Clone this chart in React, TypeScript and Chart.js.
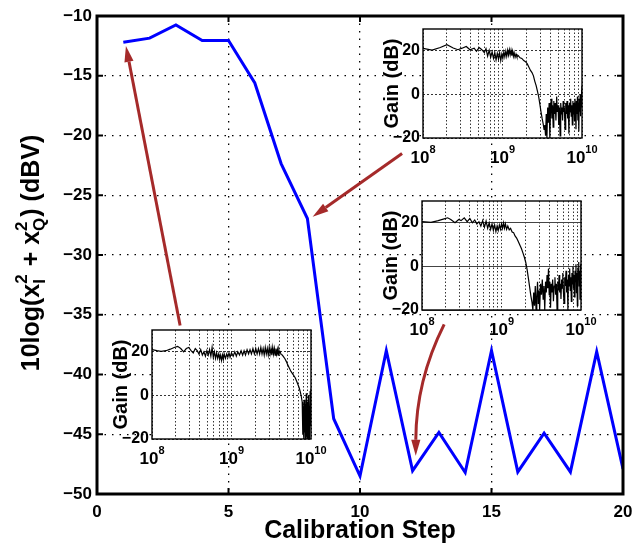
import React, { useEffect, useRef } from 'react';
import { Chart, registerables } from 'chart.js';
Chart.register(...registerables);

const FONT = '"Liberation Sans", Arial, Helvetica, sans-serif';

// ---- main chart data ----
const steps = [1, 2, 3, 4, 5, 6, 7, 8, 9, 10, 11, 12, 13, 14, 15, 16, 17, 18, 19, 20];
const power = [-12.2, -11.85, -10.75, -12.05, -12.05, -15.6, -22.35, -26.95, -43.7, -48.5, -38.0, -48.05, -44.85, -48.2, -38.0, -48.15, -44.9, -48.15, -38.1, -47.9];
const xTicks = [0, 5, 10, 15, 20];
const yTicks = [-10, -15, -20, -25, -30, -35, -40, -45, -50];
const xTitle = 'Calibration Step';

// arrows (data coordinates of the main plot)
const arrowA = { tail: [3.16, -35.9], tip: [1.1, -12.5] };
const arrowB = { tail: [11.6, -21.5], tip: [8.2, -26.8] };
const arrowC = { tail: [13.2, -35.8], ctrl: [12.13, -40.5], tip: [12.12, -46.8] };

// ---- inset data (frequency in GHz, gain in dB) ----
const insetGridGHz = [0.1, 0.2, 0.3, 0.4, 0.5, 0.6, 0.7, 0.8, 0.9, 1, 2, 3, 4, 5, 6, 7, 8, 9, 10];
const insetMajorGHz = [0.1, 1, 10];
const insetMajorExp = ['8', '9', '10'];
const insetYTicks = [-20, 0, 20];
const insetTitle = 'Gain (dB)';

const gainAFreq = [0.10, 0.13, 0.165, 0.20, 0.24, 0.275, 0.31, 0.35, 0.39, 0.44, 0.47, 0.51, 0.55, 0.59, 0.62,
  0.65, 0.68, 0.71, 0.74, 0.77, 0.80, 0.83, 0.86, 0.89, 0.92, 0.95, 0.98, 1.01, 1.04, 1.07, 1.10, 1.13, 1.16, 1.19, 1.22, 1.25, 1.28, 1.31, 1.34, 1.37, 1.40, 1.44, 1.48, 1.52,
  1.58, 1.66, 1.75, 1.85, 1.95, 2.05, 2.15, 2.25, 2.35, 2.45, 2.55, 2.65, 2.75, 2.85, 2.95, 3.05, 3.15, 3.25, 3.33,
  3.40, 3.48, 3.55, 3.62, 3.70, 3.78, 3.86, 3.94, 4.02, 4.10, 4.18, 4.26, 4.34, 4.42, 4.50, 4.60, 4.70, 4.80, 4.90, 5.00,
  5.10, 5.20, 5.30, 5.40, 5.50, 5.60, 5.70, 5.80, 5.90, 6.00, 6.12, 6.24, 6.36, 6.48, 6.60, 6.72, 6.84, 6.96, 7.08, 7.20,
  7.32, 7.44, 7.56, 7.68, 7.80, 7.92, 8.04, 8.16, 8.28, 8.40, 8.52, 8.64, 8.76, 8.88, 9.00, 9.12, 9.24, 9.36, 9.48, 9.60,
  9.72, 9.84, 9.92, 10.0];
const gainA = [21.1, 20.3, 21.5, 22.8, 21.3, 20.5, 21.2, 22.0, 20.5, 21.2, 19.8, 21.5, 20.5, 19.2, 21.0,
  17.5, 20.2, 17.0, 19.5, 16.5, 19.2, 15.8, 18.8, 16.2, 19.0, 15.5, 18.5, 16.5, 19.5, 17.2, 19.8, 17.5, 20.3, 18.0, 20.5, 18.2, 20.3, 17.8, 19.8, 17.5, 19.2, 17.0, 18.5, 17.2,
  17.8, 16.8, 16.5, 15.5, 15.0, 14.0, 12.5, 11.0, 10.0, 8.5, 6.0, 4.0, 1.5, -1.0, -4.5, -8.0, -11.0, -13.5, -16.0,
  -14, -19, -9, -20, -6, -13, -4, -20, -7, -2, -11, -5, -15, -3, -9, -4, -12, -1, -8, -5,
  -14, -6, -19, -4, -9, -6, -12, -3, -8, -6, -16, -4, -9, -3, -11, -5, -18, -4, -8, -2,
  -10, -5, -14, -3, -9, -4, -12, -2, -7, -16, -3, -9, -1, -12, -4, -17, -2, -8, 0, -10,
  -3, 2, -6, 4];

const gainBFreq = [0.10, 0.13, 0.16, 0.19, 0.21, 0.23, 0.26, 0.29, 0.31, 0.34, 0.37, 0.40, 0.43, 0.46, 0.49, 0.52, 0.55, 0.58,
  0.61, 0.64, 0.67, 0.70, 0.73, 0.76, 0.79, 0.82, 0.85, 0.88, 0.91, 0.94, 0.97, 1.00, 1.03, 1.06, 1.09, 1.12, 1.16, 1.20, 1.25,
  1.30, 1.36, 1.42, 1.48, 1.55, 1.62, 1.70, 1.78, 1.86, 1.94, 2.02, 2.10, 2.18, 2.26, 2.34, 2.42,
  2.48, 2.54, 2.60, 2.66, 2.72, 2.78, 2.84, 2.90, 2.96, 3.02, 3.10, 3.18, 3.26, 3.34, 3.42, 3.50, 3.58, 3.66, 3.74, 3.82,
  3.90, 3.98, 4.06, 4.14, 4.22, 4.30, 4.40, 4.50, 4.60, 4.70, 4.80, 4.90, 5.00, 5.10, 5.20, 5.30, 5.40, 5.50, 5.60, 5.70,
  5.80, 5.90, 6.00, 6.12, 6.24, 6.36, 6.48, 6.60, 6.72, 6.84, 6.96, 7.08, 7.20, 7.32, 7.44, 7.56, 7.68, 7.80, 7.92, 8.04,
  8.16, 8.28, 8.40, 8.52, 8.64, 8.76, 8.88, 9.00, 9.12, 9.24, 9.36, 9.48, 9.60, 9.72, 9.84, 9.92, 10.0];
const gainB = [20.5, 20.2, 21.0, 21.8, 22.3, 21.5, 20.0, 21.5, 21.0, 22.3, 20.5, 22.0, 20.0, 21.3, 19.5, 20.5, 18.5, 21.0,
  18.0, 20.8, 17.5, 20.0, 17.0, 19.5, 16.5, 19.0, 16.0, 18.5, 16.5, 19.0, 17.0, 19.5, 17.5, 20.0, 17.5, 19.5, 17.0, 18.5, 16.8,
  17.5, 15.8, 15.5, 14.0, 13.0, 11.5, 9.8, 8.2, 6.2, 4.2, 1.8, -1.5, -5.5, -9.5, -13.5, -16.5,
  -20, -12, -18, -9, -20, -14, -7, -17, -11, -20, -8, -13, -6, -15, -9, -20, -7, -12, -4, -10,
  -1, -13, -7, -19, -8, -12, -6, -16, -9, -5, -13, -8, -20, -7, -11, -4, -12, -8, -15, -6,
  -10, -3, -11, -17, -5, -9, -2, -12, -6, -20, -4, -9, -1, -11, -5, -16, -3, -8, 0, -10,
  -4, -14, -2, -7, 1, -12, -3, -18, -1, -6, 2, -9, -2, -15, 1, -5, -1];

const gainCFreq = [0.10, 0.115, 0.13, 0.15, 0.17, 0.19, 0.21, 0.23, 0.25, 0.27, 0.29, 0.31, 0.33, 0.35, 0.37, 0.39, 0.41, 0.43,
  0.45, 0.47, 0.49, 0.51, 0.53, 0.55, 0.57, 0.59, 0.61, 0.63, 0.65, 0.67, 0.69, 0.71, 0.73, 0.75, 0.77, 0.79, 0.81, 0.84, 0.87,
  0.90, 0.93, 0.96, 1.00, 1.05, 1.10, 1.15, 1.20, 1.26, 1.32, 1.38, 1.44, 1.50, 1.57, 1.64, 1.71, 1.78, 1.86, 1.94, 2.02, 2.10,
  2.18, 2.26, 2.34, 2.42, 2.50, 2.58, 2.66, 2.74, 2.82, 2.90, 2.98, 3.06, 3.14, 3.22, 3.30, 3.38, 3.46, 3.54, 3.62, 3.70, 3.78,
  3.86, 3.94, 4.02, 4.10, 4.20, 4.35, 4.50, 4.70, 4.90, 5.10, 5.35, 5.60, 5.85, 6.10, 6.35, 6.60, 6.85, 7.10, 7.35, 7.55, 7.75,
  7.85, 7.92, 8.00, 8.08, 8.16, 8.24, 8.32, 8.40, 8.48, 8.56, 8.64, 8.72, 8.80, 8.88, 8.96, 9.04, 9.12, 9.20, 9.28, 9.36, 9.44,
  9.52, 9.60, 9.68, 9.76, 9.84, 9.92, 10.0];
const gainC = [21.0, 20.5, 20.2, 20.5, 21.2, 22.0, 22.5, 21.5, 20.0, 21.5, 22.0, 20.5, 19.5, 21.5, 20.5, 19.0, 21.0, 18.5,
  20.0, 18.0, 20.5, 18.5, 21.0, 18.0, 22.0, 17.5, 20.0, 17.0, 19.5, 17.0, 19.0, 16.5, 18.5, 16.0, 18.5, 16.5, 19.0, 17.0, 19.0,
  17.5, 19.5, 17.5, 19.5, 18.0, 20.0, 18.0, 20.0, 18.5, 20.5, 18.5, 20.5, 18.5, 21.0, 19.0, 21.0, 19.0, 21.5, 19.0, 21.5, 19.0,
  21.5, 19.0, 22.0, 19.0, 21.5, 18.5, 22.0, 19.0, 21.5, 18.5, 22.0, 19.0, 21.5, 18.5, 22.0, 19.0, 21.5, 18.5, 21.5, 19.0, 21.0,
  18.5, 21.0, 19.5, 20.0, 18.8, 18.5, 17.8, 16.8, 15.5, 14.0, 12.5, 11.0, 10.0, 9.0, 8.0, 6.5, 5.0, 3.5, 1.5, -0.5, -3.0,
  -8, -18, -5, -20, -10, -2, -17, -7, -20, -4, -14, 1, -19, -8, -20, -3, -16, -6, -20, 0, -12,
  -18, -5, -20, 2, -14, -9, 3];

// ---- layout of insets (pixel boxes of their plot areas) ----
const PAD_L = 72, PAD_T = 12, PAD_R = 30, PAD_B = 38, PW = 159, PH = 109;

function drawArrowHead(ctx: CanvasRenderingContext2D, tx: number, ty: number, dx: number, dy: number) {
  const len = Math.hypot(dx, dy) || 1;
  const ux = dx / len, uy = dy / len;
  const L = 16, W = 4.6;
  const bx = tx - ux * L, by = ty - uy * L;
  ctx.beginPath();
  ctx.moveTo(tx, ty);
  ctx.lineTo(bx - uy * W, by + ux * W);
  ctx.lineTo(bx + uy * W, by - ux * W);
  ctx.closePath();
  ctx.fill();
  return [bx, by];
}

const mainDecor = {
  id: 'mainDecor',
  afterDraw(chart: any) {
    const { ctx, chartArea: a, scales } = chart;
    const x = scales.x, y = scales.y;
    ctx.save();
    ctx.strokeStyle = '#000';
    ctx.lineWidth = 2;
    ctx.beginPath();
    xTicks.forEach((v) => {
      const px = x.getPixelForValue(v);
      ctx.moveTo(px, a.bottom); ctx.lineTo(px, a.bottom - 6);
      ctx.moveTo(px, a.top); ctx.lineTo(px, a.top + 6);
    });
    yTicks.forEach((v) => {
      const py = y.getPixelForValue(v);
      ctx.moveTo(a.left, py); ctx.lineTo(a.left + 6, py);
      ctx.moveTo(a.right, py); ctx.lineTo(a.right - 6, py);
    });
    ctx.stroke();
    ctx.lineWidth = 3;
    ctx.strokeRect(a.left, a.top, a.right - a.left, a.bottom - a.top);

    // arrows
    const P = (p: number[]) => [x.getPixelForValue(p[0]), y.getPixelForValue(p[1])];
    ctx.strokeStyle = '#a52a2a';
    ctx.fillStyle = '#a52a2a';
    ctx.lineWidth = 3;
    [arrowA, arrowB].forEach((ar) => {
      const [x0, y0] = P(ar.tail);
      const [x1, y1] = P(ar.tip);
      const [bx, by] = drawArrowHead(ctx, x1, y1, x1 - x0, y1 - y0);
      ctx.beginPath(); ctx.moveTo(x0, y0); ctx.lineTo(bx, by); ctx.stroke();
    });
    {
      const [x0, y0] = P(arrowC.tail);
      const [cx, cy] = P(arrowC.ctrl);
      const [x1, y1] = P(arrowC.tip);
      const [bx, by] = drawArrowHead(ctx, x1, y1, x1 - cx, y1 - cy);
      ctx.beginPath(); ctx.moveTo(x0, y0); ctx.quadraticCurveTo(cx, cy, bx, by); ctx.stroke();
    }

    // x title
    ctx.fillStyle = '#000';
    ctx.font = `bold 25px ${FONT}`;
    ctx.textAlign = 'center';
    ctx.textBaseline = 'alphabetic';
    ctx.fillText(xTitle, (a.left + a.right) / 2, 538);

    // y title with sub/superscripts
    ctx.save();
    ctx.translate(39, 253);
    ctx.rotate(-Math.PI / 2);
    const big = `bold 25px ${FONT}`;
    const small = `bold 17px ${FONT}`;
    const parts: any[] = [
      { t: '10log(x' },
      { sup: '2', sub: 'I' },
      { t: ' + x' },
      { sup: '2', sub: 'Q' },
      { t: ') (dBV)' },
    ];
    let total = 0;
    parts.forEach((p) => {
      if (p.t) { ctx.font = big; p.w = ctx.measureText(p.t).width; }
      else { ctx.font = small; p.w = Math.max(ctx.measureText(p.sup).width, ctx.measureText(p.sub).width) + 1; }
      total += p.w;
    });
    let cur = -total / 2;
    ctx.textAlign = 'left';
    parts.forEach((p) => {
      if (p.t) { ctx.font = big; ctx.fillText(p.t, cur, 0); }
      else {
        ctx.font = small;
        ctx.fillText(p.sup, cur, -12);
        ctx.fillText(p.sub, cur, 6);
      }
      cur += p.w;
    });
    ctx.restore();
    ctx.restore();
  },
};

const insetDecor = {
  id: 'insetDecor',
  beforeDraw(chart: any) {
    const { ctx, chartArea: a } = chart;
    ctx.save();
    ctx.fillStyle = '#fff';
    ctx.fillRect(a.left, a.top, a.right - a.left, a.bottom - a.top);
    ctx.restore();
  },
  afterDraw(chart: any) {
    const { ctx, chartArea: a, scales } = chart;
    ctx.save();
    ctx.strokeStyle = '#000';
    ctx.lineWidth = 1.4;
    ctx.strokeRect(a.left, a.top, a.right - a.left, a.bottom - a.top);
    ctx.fillStyle = '#000';
    ctx.textBaseline = 'alphabetic';
    ctx.textAlign = 'left';
    insetMajorGHz.forEach((v, i) => {
      const px = scales.x.getPixelForValue(v);
      ctx.font = `bold 17px ${FONT}`;
      const wb = ctx.measureText('10').width;
      ctx.font = `bold 11px ${FONT}`;
      const we = ctx.measureText(insetMajorExp[i]).width;
      const x0 = px - (wb + we) / 2;
      const base = a.bottom + 25;
      ctx.font = `bold 17px ${FONT}`;
      ctx.fillText('10', x0, base);
      ctx.font = `bold 11px ${FONT}`;
      ctx.fillText(insetMajorExp[i], x0 + wb, base - 10);
    });
    ctx.translate(a.left - 25, (a.top + a.bottom) / 2);
    ctx.rotate(-Math.PI / 2);
    ctx.textAlign = 'center';
    ctx.font = `bold 20px ${FONT}`;
    ctx.fillText(insetTitle, 0, 0);
    ctx.restore();
  },
};

function makeInset(canvas: HTMLCanvasElement, freq: number[], gain: number[], solidH: boolean) {
  return new Chart(canvas, {
    type: 'line',
    data: {
      datasets: [{
        data: freq.map((f, i) => ({ x: f, y: gain[i] })),
        borderColor: '#000',
        borderWidth: 1.2,
        pointRadius: 0,
        tension: 0,
      }],
    },
    options: {
      responsive: false,
      animation: false,
      devicePixelRatio: 1,
      layout: { padding: { left: 0, top: PAD_T, right: PAD_R, bottom: 0 } },
      plugins: { legend: { display: false }, tooltip: { enabled: false } },
      scales: {
        x: {
          type: 'logarithmic',
          min: 0.1,
          max: 10,
          afterBuildTicks: (s: any) => { s.ticks = insetGridGHz.map((v) => ({ value: v })); },
          afterFit: (s: any) => { s.height = PAD_B; s.paddingLeft = 0; s.paddingRight = 0; },
          ticks: { display: false, autoSkip: false },
          grid: { color: '#000', lineWidth: 0.8, drawTicks: false },
          border: { display: false, dash: [1.5, 2] },
        },
        y: {
          type: 'linear',
          min: -20,
          max: 30,
          afterBuildTicks: (s: any) => { s.ticks = insetYTicks.map((v) => ({ value: v })); },
          afterFit: (s: any) => { s.width = PAD_L; s.paddingTop = 0; s.paddingBottom = 0; },
          ticks: {
            color: '#000',
            padding: 3,
            font: { family: FONT, size: 16, weight: 'bold' },
            callback: (v: any) => (v < 0 ? '\u2212' + Math.abs(v) : String(v)),
          },
          grid: { color: solidH ? '#444' : '#000', lineWidth: solidH ? 1 : 0.8, drawTicks: false },
          border: { display: false, dash: solidH ? [] : [2, 2] },
        },
      },
    } as any,
    plugins: [insetDecor],
  });
}

export default function App() {
  const mainRef = useRef<HTMLCanvasElement>(null);
  const aRef = useRef<HTMLCanvasElement>(null);
  const bRef = useRef<HTMLCanvasElement>(null);
  const cRef = useRef<HTMLCanvasElement>(null);

  useEffect(() => {
    const main = new Chart(mainRef.current!, {
      type: 'line',
      data: {
        datasets: [{
          data: steps.map((s, i) => ({ x: s, y: power[i] })),
          borderColor: '#0000ff',
          borderWidth: 3,
          pointRadius: 0,
          tension: 0,
        }],
      },
      options: {
        responsive: false,
        animation: false,
        devicePixelRatio: 1,
        layout: { padding: { left: 0, top: 16, right: 12, bottom: 0 } },
        plugins: { legend: { display: false }, tooltip: { enabled: false } },
        scales: {
          x: {
            type: 'linear',
            min: 0,
            max: 20,
            afterBuildTicks: (s: any) => { s.ticks = xTicks.map((v) => ({ value: v })); },
            afterFit: (s: any) => { s.height = 49; s.paddingLeft = 0; s.paddingRight = 0; },
            ticks: { color: '#000', padding: 8, maxRotation: 0, font: { family: FONT, size: 17, weight: 'bold' } },
            grid: { color: '#000', lineWidth: 1.3, drawTicks: false },
            border: { display: false, dash: [1.5, 6] },
          },
          y: {
            type: 'linear',
            min: -50,
            max: -10,
            afterBuildTicks: (s: any) => { s.ticks = yTicks.map((v) => ({ value: v })); },
            afterFit: (s: any) => { s.width = 97; s.paddingTop = 0; s.paddingBottom = 0; },
            ticks: {
              color: '#000',
              padding: 5,
              font: { family: FONT, size: 17, weight: 'bold' },
              callback: (v: any) => (v < 0 ? '\u2212' + Math.abs(v) : String(v)),
            },
            grid: { color: '#000', lineWidth: 1.3, drawTicks: false },
            border: { display: false, dash: [1.5, 6] },
          },
        },
      } as any,
      plugins: [mainDecor],
    });
    const ia = makeInset(aRef.current!, gainAFreq, gainA, false);
    const ib = makeInset(bRef.current!, gainBFreq, gainB, true);
    const ic = makeInset(cRef.current!, gainCFreq, gainC, false);
    return () => { main.destroy(); ia.destroy(); ib.destroy(); ic.destroy(); };
  }, []);

  const W = PW + PAD_L + PAD_R, H = PH + PAD_T + PAD_B;
  const inset = (left: number, top: number): React.CSSProperties => ({
    position: 'absolute', left: left - PAD_L, top: top - PAD_T, width: W, height: H,
  });

  return (
    <div style={{ position: 'absolute', left: 0, top: 0, width: 635, height: 543, background: '#fff' }}>
      <canvas ref={mainRef} width={635} height={543} style={{ position: 'absolute', left: 0, top: 0, width: 635, height: 543 }} />
      <canvas ref={aRef} width={W} height={H} style={inset(423, 29)} />
      <canvas ref={bRef} width={W} height={H} style={inset(422, 201)} />
      <canvas ref={cRef} width={W} height={H} style={inset(152, 330)} />
    </div>
  );
}
